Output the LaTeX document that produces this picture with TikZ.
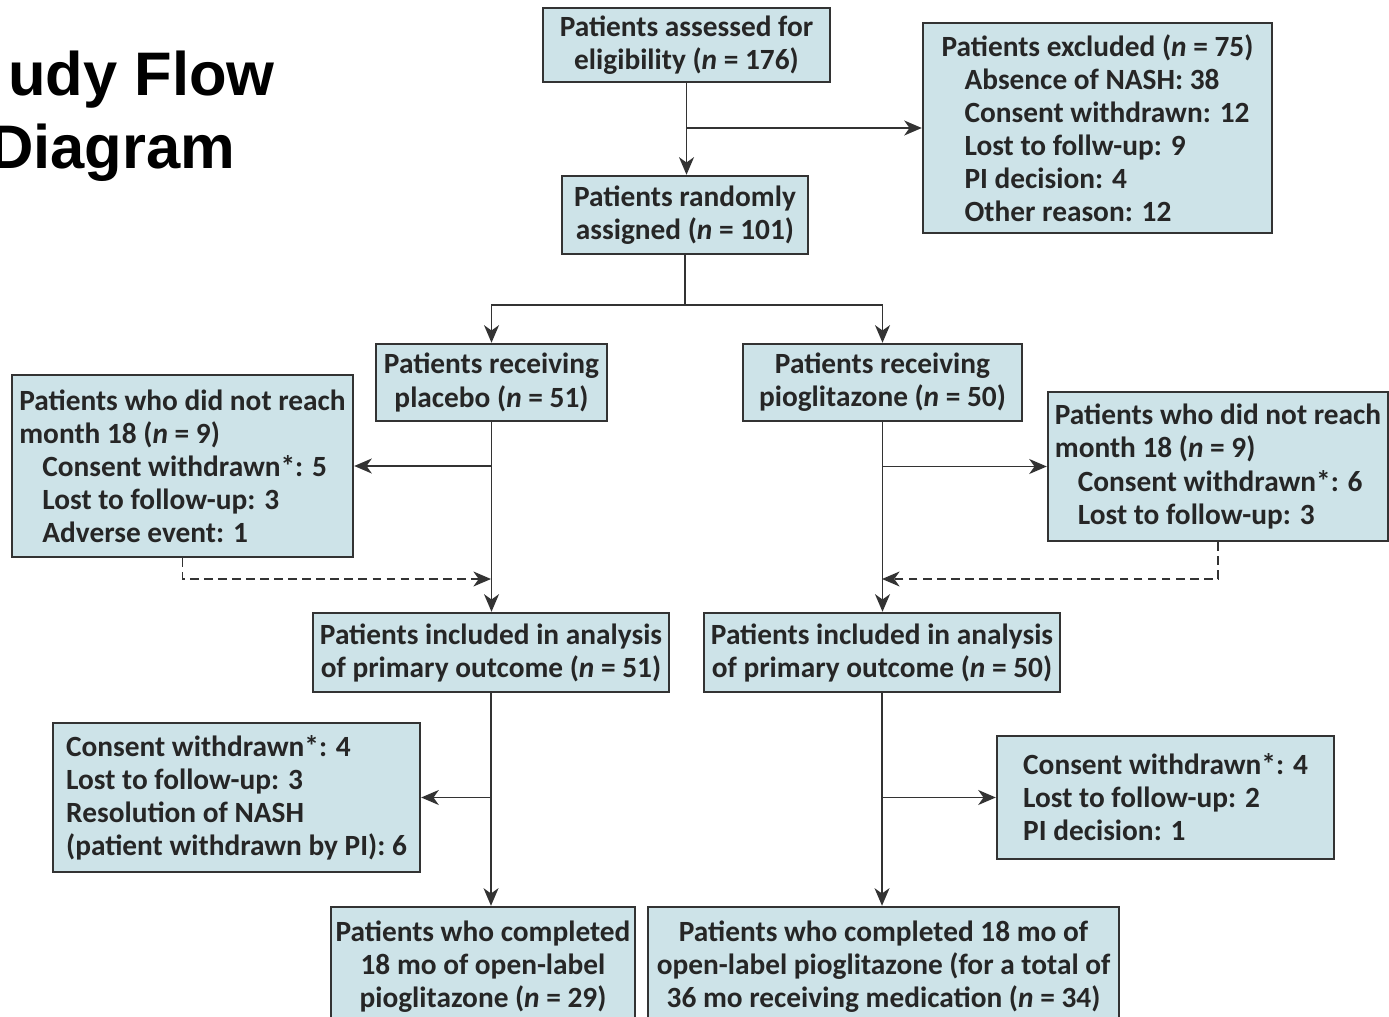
\documentclass[tikz,border=0pt]{standalone}
\usepackage{fontspec}
\setmainfont{Carlito}
\newfontfamily\titulofont{Liberation Sans}
\usetikzlibrary{arrows.meta}
\definecolor{relleno}{RGB}{205,227,232}
\definecolor{borde}{RGB}{51,51,51}
\definecolor{tinta}{RGB}{38,38,38}
\newcommand{\letracaja}{\fontsize{16.7}{18.8}\selectfont\bfseries}
\newcommand{\nn}{\textit{n}}
\newcommand{\sangria}{\hspace*{0.46cm}}

\begin{document}
\begin{tikzpicture}[x=0.02cm,y=-0.02cm,
	caja/.style={draw=borde,fill=relleno,line width=1.4pt,inner sep=0pt,text=tinta,font=\letracaja},
	flecha/.style={draw=borde,line width=1.1pt,-{Stealth[length=10pt,width=8.5pt,inset=3pt]}},
	linea/.style={draw=borde,line width=1.1pt}]
	\useasboundingbox (0,0) rectangle (1389,1017);
	\clip (0,0) rectangle (1389,1017);
	%titulo
	\node[anchor=base west,font=\titulofont\bfseries\fontsize{35}{42}\selectfont] (titulo1) at (2,95) {udy Flow};
	\node[anchor=base west,font=\titulofont\bfseries\fontsize{35}{42}\selectfont] (titulo2) at (-17,168) {Diagram};
	%cajas
	\node[caja,minimum width=5.74cm,minimum height=1.48cm,align=center] (evaluados) at (686.5,45) {Patients assessed for\\eligibility (\nn{} = 176)};
	\node[caja,minimum width=6.98cm,minimum height=4.2cm,align=left] (excluidos) at (1097.5,128) {Patients excluded (\nn{} = 75)\\\sangria Absence of NASH: 38\\\sangria Consent withdrawn: 12\\\sangria Lost to follw-up: 9\\\sangria PI decision: 4\\\sangria Other reason: 12};
	\node[caja,minimum width=4.92cm,minimum height=1.56cm,align=center] (aleatorizados) at (685,215) {Patients randomly\\assigned (\nn{} = 101)};
	\node[caja,minimum width=4.62cm,minimum height=1.54cm,align=center] (placebo) at (491.5,382.5) {Patients receiving\\placebo (\nn{} = 51)};
	\node[caja,minimum width=5.58cm,minimum height=1.54cm,align=center] (pio) at (882.5,382.5) {Patients receiving\\pioglitazone (\nn{} = 50)};
	\node[caja,minimum width=6.82cm,minimum height=3.64cm,align=left] (noL) at (182.5,466) {Patients who did not reach\\month 18 (\nn{} = 9)\\\sangria Consent withdrawn*: 5\\\sangria Lost to follow-up: 3\\\sangria Adverse event: 1};
	\node[caja,minimum width=6.8cm,minimum height=2.98cm,align=left] (noR) at (1218,466.5) {Patients who did not reach\\month 18 (\nn{} = 9)\\\sangria Consent withdrawn*: 6\\\sangria Lost to follow-up: 3};
	\node[caja,minimum width=7.12cm,minimum height=1.58cm,align=center] (primL) at (491,652.5) {Patients included in analysis\\of primary outcome (\nn{} = 51)};
	\node[caja,minimum width=7.12cm,minimum height=1.58cm,align=center] (primR) at (882,652.5) {Patients included in analysis\\of primary outcome (\nn{} = 50)};
	\node[caja,minimum width=7.34cm,minimum height=2.98cm,align=left] (retL) at (236.5,797.5) {Consent withdrawn*: 4\\Lost to follow-up: 3\\Resolution of NASH\\(patient withdrawn by PI): 6};
	\node[caja,minimum width=6.74cm,minimum height=2.46cm,align=left] (retR) at (1165.5,797.5) {Consent withdrawn*: 4\\Lost to follow-up: 2\\PI decision: 1};
	\node[caja,minimum width=6.08cm,minimum height=2.4cm,align=center] (compL) at (483,967) {Patients who completed\\18 mo of open-label\\pioglitazone (\nn{} = 29)};
	\node[caja,minimum width=9.42cm,minimum height=2.4cm,align=center] (compR) at (883.5,967) {Patients who completed 18 mo of\\open-label pioglitazone (for a total of\\36 mo receiving medication (\nn{} = 34)};
	%flechas
	\coordinate (reparto) at (685,305);
	\coordinate (llegaL) at (491,579);
	\coordinate (llegaR) at (882,579);
	\draw[flecha] (evaluados.south) -- (evaluados.south |- aleatorizados.north);
	\draw[flecha] (evaluados.south |- excluidos.west) -- (excluidos.west);
	\draw[linea] (aleatorizados.south) -- (reparto);
	\draw[flecha] (reparto) -| (placebo.north);
	\draw[flecha] (reparto) -| (pio.north);
	\draw[flecha] (placebo.south) -- (placebo.south |- primL.north);
	\draw[flecha] (pio.south) -- (pio.south |- primR.north);
	\draw[flecha] (placebo.south |- noL.east) -- (noL.east);
	\draw[flecha] (pio.south |- noR.west) -- (noR.west);
	\draw[flecha,dashed,dash pattern=on 5pt off 3pt] (noL.south) |- (llegaL);
	\draw[flecha,dashed,dash pattern=on 5pt off 3pt] (noR.south) |- (llegaR);
	\draw[flecha] (primL.south) -- (primL.south |- compL.north);
	\draw[flecha] (primR.south) -- (primR.south |- compR.north);
	\draw[flecha] (primL.south |- retL.east) -- (retL.east);
	\draw[flecha] (primR.south |- retR.west) -- (retR.west);
\end{tikzpicture}
\end{document}
